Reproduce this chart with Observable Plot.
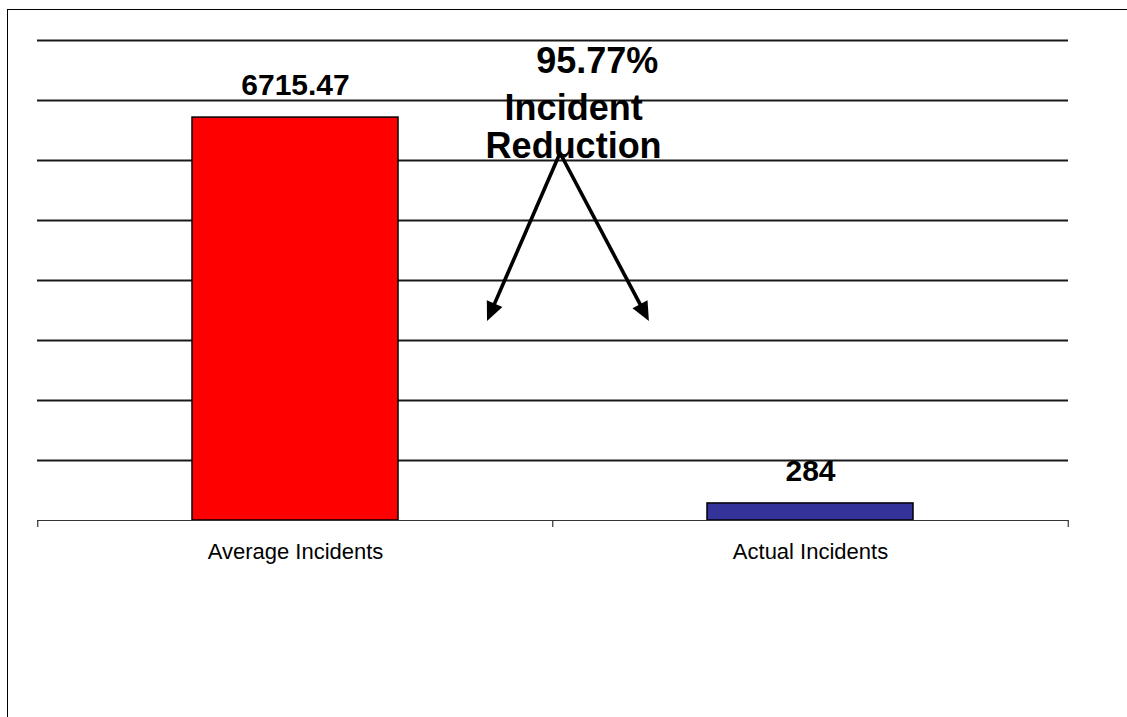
<!DOCTYPE html>
<html><head><meta charset="utf-8">
<script src="https://cdn.jsdelivr.net/npm/d3@7"></script>
<script src="https://cdn.jsdelivr.net/npm/@observablehq/plot@0.6"></script>
<style>
html,body{margin:0;padding:0;background:#fff;}
#wrap{position:relative;width:1127px;height:717px;overflow:hidden;font-family:"Liberation Sans",Arial,sans-serif;}
#frame{position:absolute;left:7px;top:9px;width:1200px;height:800px;border-left:1.5px solid #000;border-top:1.5px solid #000;}
#wrap svg{position:absolute;left:0;top:0;overflow:visible;}
</style></head><body><div id="wrap"><div id="frame"></div></div>
<script>
// ---- data ----
const categories = ["Average Incidents", "Actual Incidents"];
const values = [6715.47, 284];
const valueLabels = ["6715.47", "284"];
const barColors = ["#ff0000", "#333399"];
const gridValues = [1000, 2000, 3000, 4000, 5000, 6000, 7000, 8000];
const yDomain = [0, 8000];
// annotation (x in category units 0..2, y in incidents)
const annotationLines = ["95.77%", "Incident", "Reduction"];
const annotationX = [1.086, 1.040, 1.040];
const annotationY = [7658, 6875, 6242];
const arrowFrom = [1.0146, 6117];
const arrowToX = [0.873, 1.187];
const arrowToY = [3317, 3317];

// ---- layout ----
const W = 1127, H = 717;
const M = {top: 40, right: 59, bottom: 197, left: 37};
const step = (W - M.left - M.right) / categories.length;

const bars = categories.map((c, i) => ({cat: c, value: values[i], label: valueLabels[i], color: barColors[i]}));
const annos = annotationLines.map((t, i) => ({t, x: annotationX[i], y: annotationY[i]}));

const main = Plot.plot({
  width: W, height: H,
  marginTop: M.top, marginRight: M.right, marginBottom: M.bottom, marginLeft: M.left,
  style: {fontFamily: '"Liberation Sans", Arial, sans-serif', fontSize: "22px", color: "#000", background: "transparent"},
  x: {domain: categories, paddingInner: 0.6, paddingOuter: 0.3, tickSize: 0, tickPadding: 23, label: null},
  y: {domain: yDomain, axis: null},
  marks: [
    Plot.ruleY(gridValues, {stroke: "#1a1a1a", strokeWidth: 1.8}),
    Plot.barY(bars, {x: "cat", y: "value", fill: "color", stroke: "#000", strokeWidth: 1.5}),
    Plot.ruleY([0], {stroke: "#333", strokeWidth: 1.2}),
    Plot.ruleX(categories, {x: d => d, y1: 0, y2: 0, insetBottom: -7, dx: -step / 2, stroke: "#333", strokeWidth: 1.2}),
    Plot.ruleX(categories.slice(-1), {x: d => d, y1: 0, y2: 0, insetBottom: -7, dx: step / 2, stroke: "#333", strokeWidth: 1.2}),
    Plot.text(bars, {x: "cat", y: "value", text: "label", dy: -32, fontSize: 30, fontWeight: "bold", fill: "#000"})
  ]
});

function arrowsMark(index, scales) {
  const {x, y} = scales;
  const ns = "http://www.w3.org/2000/svg";
  const g = document.createElementNS(ns, "g");
  const x0 = x(arrowFrom[0]), y0 = y(arrowFrom[1]);
  arrowToX.forEach((tx, i) => {
    const x1 = x(tx), y1 = y(arrowToY[i]);
    const dx = x1 - x0, dy = y1 - y0, len = Math.hypot(dx, dy);
    const ux = dx / len, uy = dy / len;
    const headLen = 19, headHalf = 8.5;
    const bx = x1 - ux * headLen, by = y1 - uy * headLen;
    const line = document.createElementNS(ns, "line");
    line.setAttribute("x1", x0); line.setAttribute("y1", y0);
    line.setAttribute("x2", bx + ux * 2); line.setAttribute("y2", by + uy * 2);
    line.setAttribute("stroke", "#000"); line.setAttribute("stroke-width", 3.6);
    g.appendChild(line);
    const poly = document.createElementNS(ns, "polygon");
    poly.setAttribute("points", [
      [x1, y1],
      [bx - uy * headHalf, by + ux * headHalf],
      [bx + uy * headHalf, by - ux * headHalf]
    ].map(p => p.join(",")).join(" "));
    poly.setAttribute("fill", "#000");
    g.appendChild(poly);
  });
  return g;
}

const overlay = Plot.plot({
  width: W, height: H,
  marginTop: M.top, marginRight: M.right, marginBottom: M.bottom, marginLeft: M.left,
  style: {fontFamily: '"Liberation Sans", Arial, sans-serif', background: "transparent"},
  x: {type: "linear", domain: [0, categories.length], axis: null},
  y: {domain: yDomain, axis: null},
  marks: [
    Plot.text(annos, {x: "x", y: "y", text: "t", fontSize: 36, fontWeight: "bold", fill: "#000"}),
    arrowsMark
  ]
});

const wrap = document.getElementById("wrap");
wrap.appendChild(main);
wrap.appendChild(overlay);
</script></body></html>
